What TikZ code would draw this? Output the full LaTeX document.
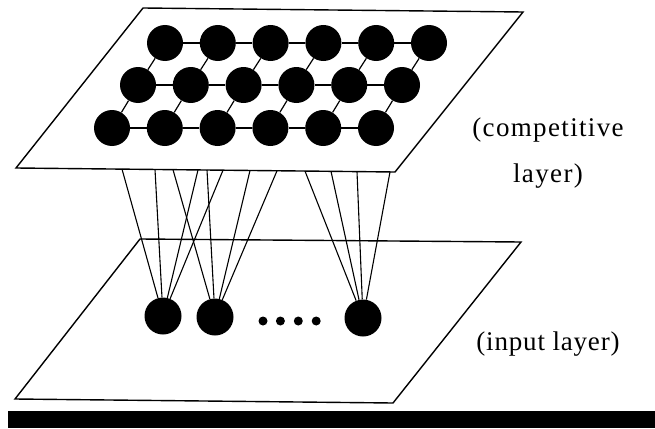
\documentclass[tikz,border=0pt]{standalone}
\usepackage{fontspec}
\setmainfont{Liberation Serif}
\usetikzlibrary{positioning}

\begin{document}
\begin{tikzpicture}[
  x=1pt, y=-1pt,
  unit/.style={
    circle, fill=black, inner sep=0pt,
    minimum size=36pt
  },
  inunit/.style={
    circle, fill=black, inner sep=0pt,
    minimum size=37pt
  },
  dotunit/.style={
    circle, fill=black, inner sep=0pt,
    minimum size=9pt
  },
  plane/.style={draw=black, line width=1.4pt, line join=miter},
  link/.style={draw=black, line width=1.2pt},
  wire/.style={draw=black, line width=1.1pt},
  lbl/.style={font=\fontsize{27}{46}\selectfont, align=center, anchor=base}
]
\useasboundingbox (0,0) rectangle (655,428);

%% Planes
\draw[plane] (143,8) -- (523,12) -- (395,172) -- (16,168) -- cycle;
\draw[plane] (140,239) -- (521,242) -- (393,403) -- (15,399) -- cycle;

%% Competitive layer — row 1
\node[unit] (c11) at (165,43) {};
\node[unit, right=16.4pt of c11] (c12) {};
\node[unit, right=16.4pt of c12] (c13) {};
\node[unit, right=16.4pt of c13] (c14) {};
\node[unit, right=16.4pt of c14] (c15) {};
\node[unit, right=16.4pt of c15] (c16) {};

%% Competitive layer — row 2
\node[unit] (c21) at (138,85) {};
\node[unit, right=16.4pt of c21] (c22) {};
\node[unit, right=16.4pt of c22] (c23) {};
\node[unit, right=16.4pt of c23] (c24) {};
\node[unit, right=16.4pt of c24] (c25) {};
\node[unit, right=16.4pt of c25] (c26) {};

%% Competitive layer — row 3
\node[unit] (c31) at (112,128) {};
\node[unit, right=16.4pt of c31] (c32) {};
\node[unit, right=16.4pt of c32] (c33) {};
\node[unit, right=16.4pt of c33] (c34) {};
\node[unit, right=16.4pt of c34] (c35) {};
\node[unit, right=16.4pt of c35] (c36) {};

%% Grid links
\draw[link] (c11) -- (c12) -- (c13) -- (c14) -- (c15) -- (c16);
\draw[link] (c21) -- (c22) -- (c23) -- (c24) -- (c25) -- (c26);
\draw[link] (c31) -- (c32) -- (c33) -- (c34) -- (c35) -- (c36);
\draw[link] (c11) -- (c21) -- (c31);
\draw[link] (c12) -- (c22) -- (c32);
\draw[link] (c13) -- (c23) -- (c33);
\draw[link] (c14) -- (c24) -- (c34);
\draw[link] (c15) -- (c25) -- (c35);
\draw[link] (c16) -- (c26) -- (c36);

%% Input layer
\node[inunit] (in1) at (163,316) {};
\node[inunit] (in2) at (215,317) {};
\node[inunit] (in3) at (363,318) {};
\node[dotunit] (d1) at (263,321) {};
\node[dotunit, right=8pt of d1] (d2) {};
\node[dotunit, right=8.5pt of d2] (d3) {};
\node[dotunit, right=8.5pt of d3] (d4) {};

%% Wire ends on the competitive plane
\coordinate (w1) at (122,169.1);
\coordinate (w2) at (155,169.5);
\coordinate (w3) at (173,169.7);
\coordinate (w4) at (198,169.9);
\coordinate (w5) at (207,170.0);
\coordinate (w6) at (223,170.2);
\coordinate (w7) at (250,170.5);
\coordinate (w8) at (277,170.8);
\coordinate (w9) at (305,171.1);
\coordinate (w10) at (331,171.3);
\coordinate (w11) at (357,171.6);
\coordinate (w12) at (390,171.9);

%% Wires
\draw[wire] (w1) -- (in1);
\draw[wire] (w2) -- (in1);
\draw[wire] (w4) -- (in1);
\draw[wire] (w6) -- (in1);
\draw[wire] (w3) -- (in2);
\draw[wire] (w5) -- (in2);
\draw[wire] (w7) -- (in2);
\draw[wire] (w8) -- (in2);
\draw[wire] (w9) -- (in3);
\draw[wire] (w10) -- (in3);
\draw[wire] (w11) -- (in3);
\draw[wire] (w12) -- (in3);

%% Labels
\node[lbl] (complbl) at (548,182)
  {\addfontfeatures{LetterSpace=5}(competitive\\\addfontfeatures{LetterSpace=5}layer)};
\node[lbl] (inlbl) at (548,350) {\addfontfeatures{LetterSpace=3}(input layer)};

%% Rule
\fill[black] (8,411) rectangle (655,428);

\end{tikzpicture}
\end{document}
